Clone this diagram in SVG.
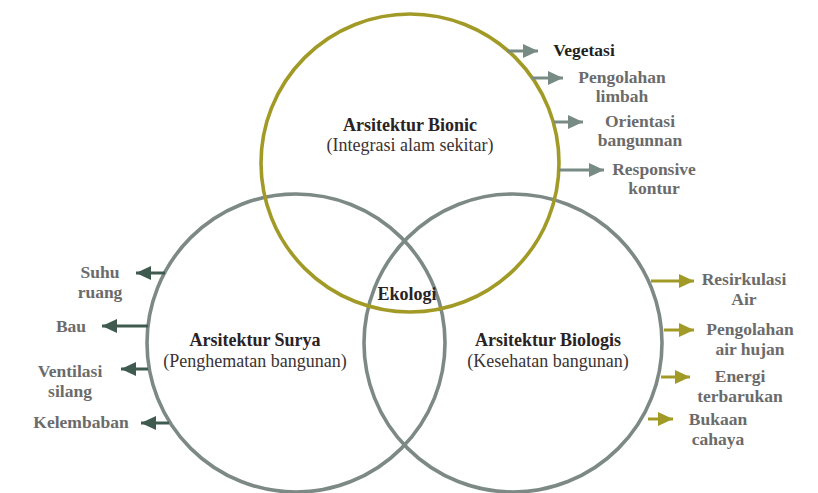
<svg xmlns="http://www.w3.org/2000/svg" width="818" height="493" viewBox="0 0 818 493">
<style>
.circ{fill:none;stroke-width:3.6}
.gray{stroke:#7d8985}
.olive{stroke:#a29a26}
text{font-family:"Liberation Serif","Times New Roman",serif}
.lbl{font-weight:bold;font-size:17.5px;fill:#6b6b6b;text-anchor:middle}
.ttl{font-weight:bold;font-size:18px;fill:#2a2223;text-anchor:middle}
.sub{font-size:18px;fill:#3a3233;text-anchor:middle}
.a1{stroke:#788a84;stroke-width:3;fill:none}
.a2{stroke:#3f5a4e;stroke-width:3;fill:none}
.a3{stroke:#a29a26;stroke-width:3;fill:none}
</style>
<defs>
<marker id="hg" markerUnits="userSpaceOnUse" markerWidth="18" markerHeight="18" refX="15" refY="9" orient="auto"><path d="M0,2 L15,9 L0,16 Z" fill="#788a84"/></marker>
<marker id="hd" markerUnits="userSpaceOnUse" markerWidth="18" markerHeight="18" refX="15" refY="9" orient="auto"><path d="M0,2 L15,9 L0,16 Z" fill="#3f5a4e"/></marker>
<marker id="ho" markerUnits="userSpaceOnUse" markerWidth="18" markerHeight="18" refX="15" refY="9" orient="auto"><path d="M0,2 L15,9 L0,16 Z" fill="#a29a26"/></marker>
</defs>
<rect width="818" height="493" fill="#ffffff"/>
<g id="surya">
<circle class="circ gray" cx="296" cy="343" r="149"/>
<text class="ttl" x="255" y="346">Arsitektur Surya</text>
<text class="sub" x="255" y="367">(Penghematan bangunan)</text>
</g>
<g id="biologis">
<circle class="circ gray" cx="513" cy="343" r="149"/>
<text class="ttl" x="548" y="346">Arsitektur Biologis</text>
<text class="sub" x="548" y="367">(Kesehatan bangunan)</text>
</g>
<g id="bionic">
<circle class="circ olive" cx="410" cy="163" r="149"/>
<text class="ttl" x="410" y="131">Arsitektur Bionic</text>
<text class="sub" x="410" y="151">(Integrasi alam sekitar)</text>
</g>
<g id="ekologi">
<text class="ttl" x="407" y="300">Ekologi</text>
</g>
<g id="connectors">
<line class="a1" x1="507" y1="51" x2="538" y2="51" marker-end="url(#hg)"/>
<line class="a1" x1="532" y1="78" x2="563" y2="78" marker-end="url(#hg)"/>
<line class="a1" x1="554" y1="122" x2="583" y2="122" marker-end="url(#hg)"/>
<line class="a1" x1="559" y1="170" x2="604" y2="170" marker-end="url(#hg)"/>
<line class="a2" x1="165" y1="273" x2="136" y2="273" marker-end="url(#hd)"/>
<line class="a2" x1="148" y1="326" x2="102" y2="326" marker-end="url(#hd)"/>
<line class="a2" x1="148" y1="369" x2="121" y2="369" marker-end="url(#hd)"/>
<line class="a2" x1="169" y1="423" x2="141" y2="423" marker-end="url(#hd)"/>
<line class="a3" x1="651" y1="281" x2="694" y2="281" marker-end="url(#ho)"/>
<line class="a3" x1="664" y1="330" x2="694" y2="330" marker-end="url(#ho)"/>
<line class="a3" x1="661" y1="377" x2="690" y2="377" marker-end="url(#ho)"/>
<line class="a3" x1="648" y1="419" x2="673" y2="419" marker-end="url(#ho)"/>
</g>
<g id="label-vegetasi"><text class="lbl" x="584" y="56" style="fill:#231f20">Vegetasi</text></g>
<g id="label-limbah"><text class="lbl" x="622" y="83">Pengolahan</text><text class="lbl" x="622" y="102">limbah</text></g>
<g id="label-orientasi"><text class="lbl" x="640" y="127">Orientasi</text><text class="lbl" x="640" y="146">bangunnan</text></g>
<g id="label-responsive"><text class="lbl" x="654" y="175">Responsive</text><text class="lbl" x="654" y="194">kontur</text></g>
<g id="label-suhu"><text class="lbl" x="100" y="278">Suhu</text><text class="lbl" x="100" y="298">ruang</text></g>
<g id="label-bau"><text class="lbl" x="71" y="332">Bau</text></g>
<g id="label-ventilasi"><text class="lbl" x="70" y="377">Ventilasi</text><text class="lbl" x="70" y="397">silang</text></g>
<g id="label-kelembaban"><text class="lbl" x="81" y="428">Kelembaban</text></g>
<g id="label-resirkulasi"><text class="lbl" x="744" y="285">Resirkulasi</text><text class="lbl" x="744" y="305">Air</text></g>
<g id="label-airhujan"><text class="lbl" x="750" y="335">Pengolahan</text><text class="lbl" x="750" y="355">air hujan</text></g>
<g id="label-energi"><text class="lbl" x="740" y="382">Energi</text><text class="lbl" x="740" y="402">terbarukan</text></g>
<g id="label-bukaan"><text class="lbl" x="718" y="425">Bukaan</text><text class="lbl" x="718" y="445">cahaya</text></g>
</svg>
